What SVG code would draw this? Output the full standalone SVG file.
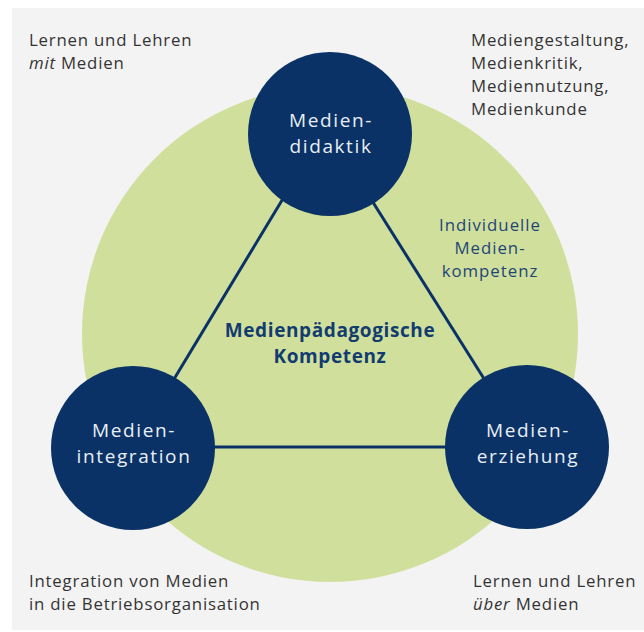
<svg xmlns="http://www.w3.org/2000/svg" width="644" height="632" viewBox="0 0 644 632">
<style>
.lbl{font-family:"Open Sans","Noto Sans","DejaVu Sans",sans-serif;font-size:16.8px;letter-spacing:0.8px;fill:#333333}
.node circle{fill:#0a3266}
.node text{font-family:"Open Sans","Noto Sans","DejaVu Sans",sans-serif;font-size:19px;letter-spacing:1.6px;fill:#e9eef5;text-anchor:middle}
.center{font-family:"Open Sans","Noto Sans","DejaVu Sans",sans-serif;font-size:19px;letter-spacing:0.6px;font-weight:bold;fill:#123c70;text-anchor:middle}
.ind{font-family:"Open Sans","Noto Sans","DejaVu Sans",sans-serif;font-size:16.8px;letter-spacing:1px;fill:#1f4577;text-anchor:middle}
.conn line{stroke:#0a3266;stroke-width:3}
</style>
<rect x="0" y="0" width="644" height="632" fill="#ffffff"/>
<rect x="12" y="8" width="632" height="622" fill="#f3f3f3"/>
<circle id="kompetenz-bg" cx="330" cy="334" r="248" fill="#d0e09c"/>
<g id="connectors" class="conn">
<line x1="322" y1="134" x2="133" y2="447"/>
<line x1="330" y1="134" x2="527" y2="447"/>
<line x1="133" y1="447" x2="527" y2="447"/>
</g>
<g id="center-label">
<text class="center" x="330" y="337">Medienpädagogische</text>
<text class="center" x="330" y="363">Kompetenz</text>
</g>
<g id="individuelle">
<text class="ind" x="490" y="231">Individuelle</text>
<text class="ind" x="490" y="254">Medien-</text>
<text class="ind" x="490" y="277">kompetenz</text>
</g>
<g id="mediendidaktik" class="node">
<circle cx="330" cy="134" r="82"/>
<text x="331" y="127">Medien-</text>
<text x="331" y="153">didaktik</text>
</g>
<g id="medienintegration" class="node">
<circle cx="133" cy="448" r="82"/>
<text x="134" y="437">Medien-</text>
<text x="134" y="463">integration</text>
</g>
<g id="medienerziehung" class="node">
<circle cx="527" cy="447" r="82"/>
<text x="528" y="437">Medien-</text>
<text x="528" y="463">erziehung</text>
</g>
<g id="note-tl">
<text class="lbl" x="29" y="46">Lernen und Lehren</text>
<text class="lbl" x="29" y="69"><tspan font-style="italic">mit</tspan> Medien</text>
</g>
<g id="note-tr">
<text class="lbl" x="471" y="46">Mediengestaltung,</text>
<text class="lbl" x="471" y="69">Medienkritik,</text>
<text class="lbl" x="471" y="92">Mediennutzung,</text>
<text class="lbl" x="471" y="115">Medienkunde</text>
</g>
<g id="note-bl">
<text class="lbl" x="29" y="587">Integration von Medien</text>
<text class="lbl" x="29" y="610">in die Betriebsorganisation</text>
</g>
<g id="note-br">
<text class="lbl" x="473" y="587">Lernen und Lehren</text>
<text class="lbl" x="473" y="610"><tspan font-style="italic">über</tspan> Medien</text>
</g>
</svg>
